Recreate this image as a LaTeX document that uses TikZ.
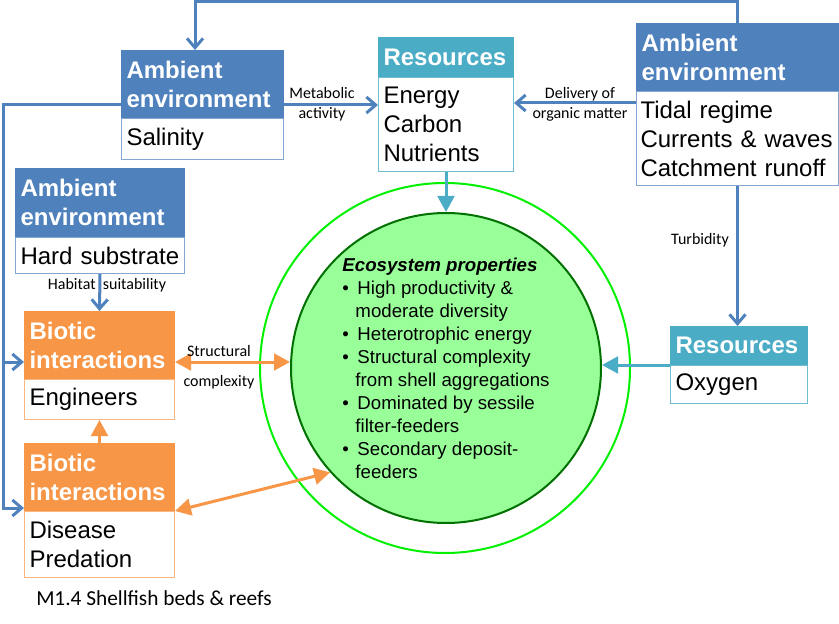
\documentclass[tikz,border=0pt]{standalone}
\usepackage{fontspec}
\setmainfont{Liberation Sans}
\newfontfamily\calfont{Carlito}
\usepackage{tikz}
\usetikzlibrary{arrows.meta}

\definecolor{envblue}{RGB}{79,129,189}
\definecolor{resteal}{RGB}{75,172,198}
\definecolor{bioorange}{RGB}{247,150,70}
\definecolor{ecofill}{RGB}{153,255,153}
\definecolor{ecoline}{RGB}{0,112,0}
\definecolor{shellline}{RGB}{0,240,0}

\newcommand{\propbullet}{\makebox[11.25pt][l]{\textbullet}}
\newcommand{\propindent}{\hspace*{9.75pt}}

\tikzset{
  head/.style={anchor=north west, draw=#1, fill=#1, text=white, align=left, inner xsep=3.75pt, inner ysep=0pt, line width=0.75pt, font=\bfseries\fontsize{18}{21.75}\selectfont},
  body/.style={anchor=north west, draw=#1, fill=white, text=black, align=left, inner xsep=3.75pt, inner ysep=0pt, line width=0.75pt, font=\fontsize{18}{21.75}\selectfont},
  envarrow/.style={draw=envblue, line width=2.25pt, -{Straight Barb[length=7pt,width=12pt]}},
  resarrow/.style={draw=resteal, line width=2.25pt, -{Triangle[length=12pt,width=12.5pt]}},
  bioarrow/.style={draw=bioorange, line width=2.25pt, -{Triangle[length=12pt,width=12.5pt]}},
  biodouble/.style={draw=bioorange, line width=2.25pt, {Triangle[length=12pt,width=12.5pt]}-{Triangle[length=12pt,width=12.5pt]}},
  lbl/.style={font=\calfont\fontsize{12}{15}\selectfont, align=center, inner sep=1pt},
}

\begin{document}
\begin{tikzpicture}[x=0.75pt,y=0.75pt,yscale=-1,xscale=1]
\useasboundingbox (0,0) rectangle (839,624);

%Circles: ecosystem
\node[circle, draw=shellline, line width=1.5pt, minimum size=277.5pt, inner sep=0pt] (shell) at (445,368) {};
\node[circle, draw=ecoline, fill=ecofill, line width=1.5pt, minimum size=232.5pt, inner sep=0pt] (eco) at (446,368) {};
\node[font=\fontsize{14}{17.25}\selectfont, align=left, inner sep=0pt] (props) at (446,368) {\textbf{\textit{Ecosystem properties}}\\
\propbullet High productivity \&\\
\propindent moderate diversity\\
\propbullet Heterotrophic energy\\
\propbullet Structural complexity\\
\propindent from shell aggregations\\
\propbullet Dominated by sessile\\
\propindent filter-feeders\\
\propbullet Secondary deposit-\\
\propindent feeders};

%Ambient environment: salinity
\node[head=envblue, text width=114pt, minimum height=50.25pt] (salhead) at (121,50) {Ambient\\environment};
\node[body=envblue!70, text width=114pt, minimum height=30.75pt] (salbody) at (salhead.south west) {Salinity};

%Resources: energy
\node[head=resteal, text width=93.75pt, minimum height=29.25pt] (reshead) at (378,37) {Resources};
\node[body=resteal!80, text width=93.75pt, minimum height=70.5pt] (resbody) at (reshead.south west) {Energy\\Carbon\\Nutrients};

%Ambient environment: tides
\node[head=envblue, text width=144pt, minimum height=50.25pt] (tidehead) at (636,23) {Ambient\\environment};
\node[body=envblue!70, inner xsep=3pt, text width=145.5pt, minimum height=70.5pt] (tidebody) at (tidehead.south west) {Tidal regime\\\mbox{Currents \& waves}\\Catchment runoff};

%Ambient environment: substrate
\node[head=envblue, text width=119.25pt, minimum height=51pt] (hardhead) at (15,168) {Ambient\\environment};
\node[body=envblue!70, text width=119.25pt, minimum height=27pt] (hardbody) at (hardhead.south west) {Hard substrate};

%Biotic interactions: engineers
\node[head=bioorange, text width=105pt, minimum height=50.25pt] (enghead) at (24,311) {Biotic\\interactions};
\node[body=bioorange!70, text width=105pt, minimum height=30pt] (engbody) at (enghead.south west) {Engineers};

%Biotic interactions: disease
\node[head=bioorange, text width=105pt, minimum height=50.25pt] (dishead) at (24,443) {Biotic\\interactions};
\node[body=bioorange!70, text width=105pt, minimum height=49.5pt] (disbody) at (dishead.south west) {Disease\\Predation};

%Resources: oxygen
\node[head=resteal, text width=95.25pt, minimum height=28.5pt] (oxyhead) at (670,326) {Resources};
\node[body=resteal!80, text width=95.25pt, minimum height=28.5pt] (oxybody) at (oxyhead.south west) {Oxygen};

%Connectors
\coordinate (loop) at (195,2);
\coordinate (trunk) at (3,508);
\draw[envarrow] (tidehead.north) |- (loop) -- (salhead.north -| loop);
\draw[envarrow] (salhead.east |- 0,105) -- (resbody.west |- 0,105);
\node[lbl] (metabolic) at (322,104) {Metabolic\\activity};
\draw[envarrow] (tidebody.west |- 0,103) -- (resbody.east |- 0,103);
\node[lbl] (delivery) at (580,104) {Delivery of\\organic matter};
\draw[envarrow] (salhead.west |- 0,105) -| (trunk) -- (dishead.west |- trunk);
\draw[envarrow] (trunk |- 0,362) -- (enghead.west |- 0,362);
\draw[envarrow] (hardbody.south) -- (enghead.north);
\node[lbl] (habitat) at (107,285) {Habitat\ \ suitability};
\draw[resarrow] (resbody.south) -- (eco.north);
\draw[envarrow] (tidebody.south) -- (oxyhead.north -| tidebody.south);
\node[lbl] (turbidity) at (700,240) {Turbidity};
\draw[resarrow] (oxyhead.south west) -- (eco.east |- oxyhead.south west);
\draw[biodouble] (enghead.east |- 0,362) -- (eco.west |- 0,362);
\node[lbl] (structure) at (219,367) {Structural\\[7.5pt]complexity};
\draw[bioarrow] (dishead.north) -- (engbody.south);
\draw[biodouble] (dishead.south east) -- (eco.222);

%Caption
\node[font=\calfont\fontsize{16}{19}\selectfont, inner sep=0pt] (title) at (154,598) {M1.4 Shellfish beds \& reefs};

\end{tikzpicture}
\end{document}
